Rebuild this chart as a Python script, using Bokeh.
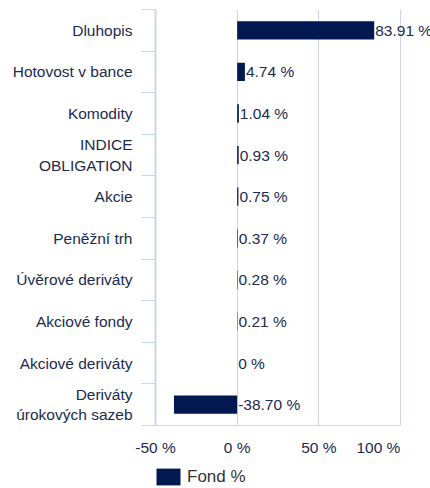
from bokeh.plotting import figure
from bokeh.layouts import column
from bokeh.models import (Range1d, FixedTicker, ColumnDataSource, LabelSet,
                          Legend, LegendItem)
from bokeh.core.properties import value
from bokeh.embed import file_html
from bokeh.resources import INLINE

# ---- data ----
categories = ["Dluhopis", "Hotovost v bance", "Komodity", "INDICE\nOBLIGATION",
              "Akcie", "Peněžní trh", "Úvěrové deriváty", "Akciové fondy",
              "Akciové deriváty", "Deriváty\núrokových sazeb"]
values = [83.91, 4.74, 1.04, 0.93, 0.75, 0.37, 0.28, 0.21, 0, -38.70]
value_labels = ["83.91 %", "4.74 %", "1.04 %", "0.93 %", "0.75 %", "0.37 %",
                "0.28 %", "0.21 %", "0 %", "-38.70 %"]
x_ticks = [-50, 0, 50, 100]
x_tick_labels = ["-50 %", "0 %", "50 %", "100 %"]
series_name = "Fond %"

FONT = "Liberation Sans"
FS = "15.5px"
TXT = "#1c2b4f"
AX = "#ccd6eb"
BAR = "#011851"
NBSP = "\u00a0"

n = len(categories)
idx = list(range(n))
label_x = [max(v, 0) for v in values]

src = ColumnDataSource(dict(y=idx, v=values, lx=label_x, lab=value_labels))

# frame extends to the right edge so that value labels are not clipped;
# axis range -50..100 occupies 245 px, frame is 275 px wide
x_end = x_ticks[0] + (x_ticks[-1] - x_ticks[0]) * 275 / 245

p = figure(width=430, height=458, output_backend="svg", toolbar_location=None,
           x_range=Range1d(x_ticks[0], x_end),
           y_range=Range1d(n - 0.5, -0.5),
           min_border_left=155, min_border_right=0, min_border_top=9,
           min_border_bottom=33)
p.outline_line_color = None
p.background_fill_color = "white"
p.border_fill_color = "white"

bars = p.hbar(y="y", left=0, right="v", height=0.44, source=src,
              fill_color=BAR, line_color=None)

labels = LabelSet(x="lx", y="y", text="lab", source=src, x_offset=1,
                  text_baseline="middle", text_align="left",
                  text_font=value(FONT), text_font_size=FS, text_color=TXT)
p.add_layout(labels)

# x axis (last label kept inside the plot area, like the original)
overrides = {t: s for t, s in zip(x_ticks, x_tick_labels)}
overrides[x_ticks[-1]] = x_tick_labels[-1] + NBSP * 7
p.xaxis.ticker = FixedTicker(ticks=x_ticks)
p.xaxis.bounds = (x_ticks[0], x_ticks[-1])
p.xaxis.major_label_overrides = overrides
p.xaxis.axis_line_color = AX
p.xaxis.axis_line_width = 1
p.xaxis.major_tick_line_color = None
p.xaxis.major_tick_out = 0
p.xaxis.major_tick_in = 0
p.xaxis.minor_tick_line_color = None
p.xaxis.major_label_standoff = 13
p.xaxis.major_label_text_font = FONT
p.xaxis.major_label_text_font_size = FS
p.xaxis.major_label_text_color = TXT

# y axis
bounds = [i - 0.5 for i in range(n + 1)]
p.yaxis.ticker = FixedTicker(ticks=idx, minor_ticks=bounds)
p.yaxis.major_label_overrides = {i: c for i, c in zip(idx, categories)}
p.yaxis.axis_line_color = AX
p.yaxis.axis_line_width = 2
p.yaxis.major_tick_line_color = None
p.yaxis.major_tick_out = 0
p.yaxis.major_tick_in = 0
p.yaxis.minor_tick_line_color = AX
p.yaxis.minor_tick_out = 14
p.yaxis.minor_tick_in = 0
p.yaxis.major_label_standoff = 9
p.yaxis.major_label_text_font = FONT
p.yaxis.major_label_text_font_size = FS
p.yaxis.major_label_text_color = TXT

# grids
p.xgrid.ticker = FixedTicker(ticks=x_ticks)
p.xgrid.grid_line_color = AX
p.xgrid.grid_line_width = 1
p.ygrid.grid_line_color = None

# legend strip (its frame is aligned with the chart frame by the column)
leg = figure(width=430, height=30, output_backend="svg", toolbar_location=None,
             x_range=Range1d(0, 1), y_range=Range1d(0, 1),
             min_border_left=0, min_border_right=0, min_border_top=0,
             min_border_bottom=0)
leg.axis.visible = False
leg.grid.visible = False
leg.outline_line_color = None
proxy = leg.hbar(y=[-10], left=[0], right=[1], height=0.5,
                 fill_color=BAR, line_color=None)
legend = Legend(items=[LegendItem(label=series_name, renderers=[proxy])],
                location=(-2, 1), orientation="horizontal",
                glyph_width=30, glyph_height=21, label_standoff=4,
                label_text_font=FONT, label_text_font_size="17px",
                label_text_color="#333333", border_line_color=None,
                background_fill_alpha=0, padding=0, margin=0,
                label_height=21)
leg.add_layout(legend)

layout = column(p, leg, spacing=0)
open("out.html", "w").write(file_html(layout, INLINE))
